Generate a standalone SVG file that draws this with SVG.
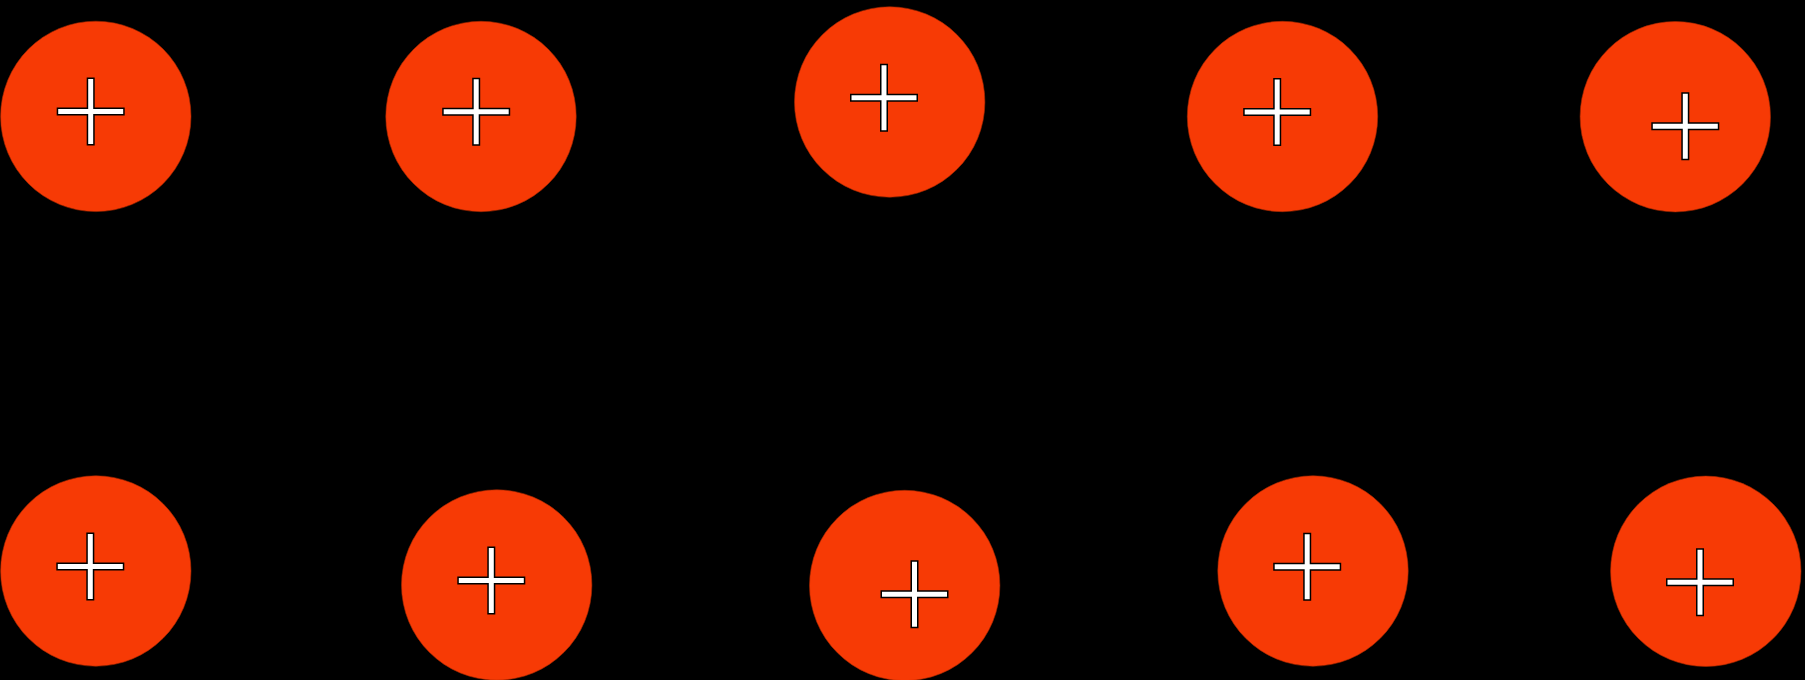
<svg xmlns="http://www.w3.org/2000/svg" xmlns:xlink="http://www.w3.org/1999/xlink" width="1805" height="680" viewBox="0 0 1805 680">
<style>
.charge{fill:#f73a05;stroke:#a82800;stroke-width:0.6}
.plus{fill:#ffffff;stroke:#000000;stroke-width:1.5;stroke-linejoin:miter}
</style>
<defs>
<path id="plus" class="plus" d="M-3.25,-33.25 H3.25 V-3.25 H33.25 V3.25 H3.25 V33.25 H-3.25 V3.25 H-33.25 V-3.25 H-3.25 Z"/>
</defs>
<rect x="0" y="0" width="1805" height="680" fill="#000000"/>
<g id="connectors"></g>
<g id="charge1"><circle class="charge" cx="95.8" cy="116.4" r="95.2"/><use href="#plus" xlink:href="#plus" x="90.7" y="111.5"/></g>
<g id="charge2"><circle class="charge" cx="481" cy="116.5" r="95.2"/><use href="#plus" xlink:href="#plus" x="476.2" y="111.8"/></g>
<g id="charge3"><circle class="charge" cx="889.7" cy="102" r="95.2"/><use href="#plus" xlink:href="#plus" x="884" y="97.7"/></g>
<g id="charge4"><circle class="charge" cx="1282.5" cy="116.5" r="95.2"/><use href="#plus" xlink:href="#plus" x="1277.2" y="112"/></g>
<g id="charge5"><circle class="charge" cx="1675.3" cy="116.7" r="95.2"/><use href="#plus" xlink:href="#plus" x="1685.3" y="126.3"/></g>
<g id="charge6"><circle class="charge" cx="95.8" cy="571" r="95.2"/><use href="#plus" xlink:href="#plus" x="90.3" y="566.5"/></g>
<g id="charge7"><circle class="charge" cx="496.7" cy="585" r="95.2"/><use href="#plus" xlink:href="#plus" x="491.3" y="580.5"/></g>
<g id="charge8"><circle class="charge" cx="904.7" cy="585.5" r="95.2"/><use href="#plus" xlink:href="#plus" x="914.5" y="594.3"/></g>
<g id="charge9"><circle class="charge" cx="1313" cy="571" r="95.2"/><use href="#plus" xlink:href="#plus" x="1307.2" y="566.7"/></g>
<g id="charge10"><circle class="charge" cx="1705.8" cy="571.3" r="95.2"/><use href="#plus" xlink:href="#plus" x="1700" y="582.2"/></g>
</svg>
